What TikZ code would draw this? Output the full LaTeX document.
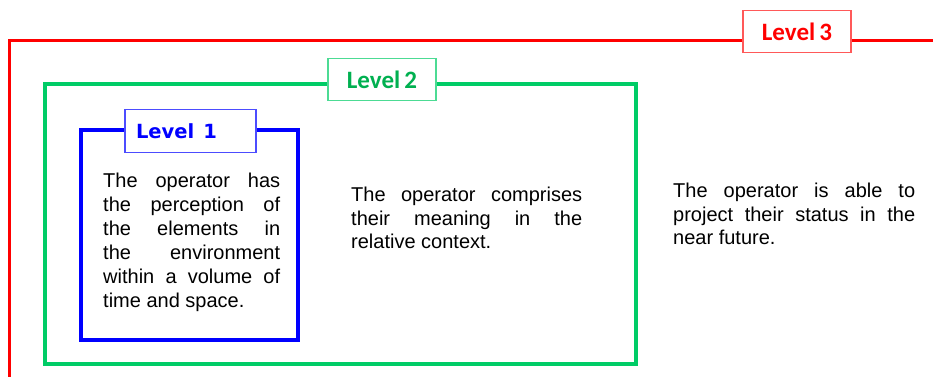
\documentclass[tikz,border=0pt]{standalone}
\usepackage{fontspec}
\setmainfont{Liberation Sans}
\newfontfamily\labelfont{Carlito}
\newfontfamily\levelonefont{DejaVu Sans}
\definecolor{lvred}{RGB}{255,0,0}
\definecolor{lvgreen}{RGB}{0,204,102}
\definecolor{lvgreentext}{RGB}{0,176,80}
\definecolor{lvblue}{RGB}{0,0,255}
\begin{document}
\begin{tikzpicture}[x=1pt,y=-1pt,
  tag/.style={draw, line width=1.2pt, fill=white, inner sep=0pt, minimum height=42pt,
    font=\labelfont\bfseries\fontsize{25}{28}\selectfont},
  body/.style={anchor=north west, inner sep=0pt, align=justify}]
  \useasboundingbox (0,0) rectangle (933,376);
  \begin{scope}
    \clip (0,0) rectangle (933,376);
    % level 3 frame, running off the right and bottom edges
    \draw[lvred, line width=3pt] (9,400) |- (960,40);
  \end{scope}
  \node[tag, draw=lvred!65, text=lvred, minimum width=108pt] (l3) at (797,31.5) {Level\,3};

  % level 2 frame
  \draw[lvgreen, line width=4pt] (45,84) rectangle (636,364);
  \node[tag, draw=lvgreen!70, text=lvgreentext, minimum width=108pt] (l2) at (382,79.5) {Level\,2};

  % level 1 frame; its caption sits left of the tag's centre
  \draw[lvblue, line width=4pt] (81,130) rectangle (298,340);
  \node[tag, draw=lvblue!70, text=lvblue, minimum height=43pt,
    font=\levelonefont\bfseries\fontsize{19.5}{22}\selectfont] (l1) at (190.5,131)
    {\makebox[131pt][l]{\hspace{11pt}Level\hspace{9pt}1}};

  \node[body, text width=177pt, font=\fontsize{20}{24}\selectfont] (t1) at (103,172.5) {The operator has\linebreak
    the perception of\linebreak
    the elements in\linebreak
    the environment\linebreak
    within a volume of\linebreak
    time and space.};
  \node[body, text width=231pt, font=\fontsize{20}{23.4}\selectfont] (t2) at (351,187) {The operator comprises\linebreak
    their meaning in the\linebreak
    relative context.};
  \node[body, text width=242pt, font=\fontsize{20}{23.4}\selectfont] (t3) at (673,183) {The operator is able to\linebreak
    project their status in the\linebreak
    near future.};
\end{tikzpicture}
\end{document}
